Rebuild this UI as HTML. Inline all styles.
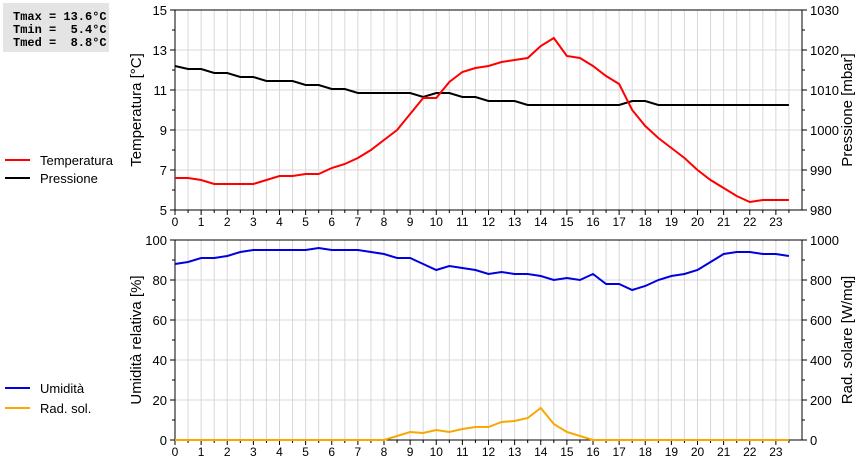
<!DOCTYPE html>
<html><head><meta charset="utf-8"><style>
body{margin:0;background:#fff;width:860px;height:460px;overflow:hidden;font-family:"Liberation Sans",sans-serif}
#info{position:absolute;left:3px;top:3px;width:106px;height:49px;background:#e4e4e4;font-family:"Liberation Mono",monospace;font-weight:bold;font-size:12px;line-height:13px;padding-top:8px;box-sizing:border-box;white-space:pre;padding-left:10px}
</style></head><body>
<div id="info">Tmax = 13.6°C
Tmin =  5.4°C
Tmed =  8.8°C</div>
<svg id="svg" width="860" height="460" style="position:absolute;left:0;top:0;pointer-events:none"></svg>
<script>
const hours=[0,0.5,1,1.5,2,2.5,3,3.5,4,4.5,5,5.5,6,6.5,7,7.5,8,8.5,9,9.5,10,10.5,11,11.5,12,12.5,13,13.5,14,14.5,15,15.5,16,16.5,17,17.5,18,18.5,19,19.5,20,20.5,21,21.5,22,22.5,23,23.5];
const temperature=[6.6,6.6,6.5,6.3,6.3,6.3,6.3,6.5,6.7,6.7,6.8,6.8,7.1,7.3,7.6,8.0,8.5,9.0,9.8,10.6,10.6,11.4,11.9,12.1,12.2,12.4,12.5,12.6,13.2,13.6,12.7,12.6,12.2,11.7,11.3,10.0,9.2,8.6,8.1,7.6,7.0,6.5,6.1,5.7,5.4,5.5,5.5,5.5];
const pressure=[1016,1015.25,1015.25,1014.25,1014.25,1013.25,1013.25,1012.25,1012.25,1012.25,1011.25,1011.25,1010.25,1010.25,1009.25,1009.25,1009.25,1009.25,1009.25,1008.25,1009.25,1009.25,1008.25,1008.25,1007.25,1007.25,1007.25,1006.25,1006.25,1006.25,1006.25,1006.25,1006.25,1006.25,1006.25,1007.25,1007.25,1006.25,1006.25,1006.25,1006.25,1006.25,1006.25,1006.25,1006.25,1006.25,1006.25,1006.25];
const humidity=[88,89,91,91,92,94,95,95,95,95,95,96,95,95,95,94,93,91,91,88,85,87,86,85,83,84,83,83,82,80,81,80,83,78,78,75,77,80,82,83,85,89,93,94,94,93,93,92];
const solar=[0,0,0,0,0,0,0,0,0,0,0,0,0,0,0,0,0,20,40,35,50,40,55,65,65,90,95,110,160,80,40,20,0,0,0,0,0,0,0,0,0,0,0,0,0,0,0,0];
const tempTicks=[5,7,9,11,13,15];
const presTicks=[980,990,1000,1010,1020,1030];
const humTicks=[0,20,40,60,80,100];
const solTicks=[0,200,400,600,800,1000];
const xTicks=[0,1,2,3,4,5,6,7,8,9,10,11,12,13,14,15,16,17,18,19,20,21,22,23];
const svg=document.getElementById('svg');const NS='http://www.w3.org/2000/svg';
function mk(t,a,p){const e=document.createElementNS(NS,t);for(const k in a)e.setAttribute(k,a[k]);(p||svg).appendChild(e);return e;}
const X0=175,X1=802;const x=h=>X0+h/24*(X1-X0);
function panel(top,bot,lMin,lMax,rMin,rMax,lT,rT,lTitle,rTitle,series,name){
 const g=mk('g',{});
 const yl=v=>bot-(v-lMin)/(lMax-lMin)*(bot-top), yr=v=>bot-(v-rMin)/(rMax-rMin)*(bot-top);
 for(let h=0.5;h<24;h+=0.5)mk('line',{x1:x(h),x2:x(h),y1:top,y2:bot,stroke:'#d8d8d8','stroke-width':1},g);
 lT.forEach((v,i)=>{const y=yl(v);if(i>0&&i<lT.length-1)mk('line',{x1:X0,x2:X1,y1:y,y2:y,stroke:'#d8d8d8'},g);
  mk('line',{x1:X0-5,x2:X0,y1:y,y2:y,stroke:'#000'},g);mk('line',{x1:X1,x2:X1+5,y1:y,y2:y,stroke:'#000'},g);
  if(i>0){const ym=yl((v+lT[i-1])/2);mk('line',{x1:X0-3,x2:X0,y1:ym,y2:ym,stroke:'#000'},g);mk('line',{x1:X1,x2:X1+3,y1:ym,y2:ym,stroke:'#000'},g);}
  const t=mk('text',{x:X0-8,y:y+5,'text-anchor':'end','font-size':13},g);t.textContent=v;});
 rT.forEach(v=>{const t=mk('text',{x:X1+8,y:yr(v)+5,'font-size':13},g);t.textContent=v;});
 mk('rect',{x:X0,y:top,width:X1-X0,height:bot-top,fill:'none',stroke:'#000'},g);
 for(let h=0;h<24;h+=0.5){mk('line',{x1:x(h),x2:x(h),y1:bot,y2:bot+(h%1?3:5),stroke:'#000'},g);}
 xTicks.forEach(h=>{const t=mk('text',{x:x(h),y:bot+16,'text-anchor':'middle','font-size':12},g);t.textContent=h;});
 const cy=(top+bot)/2;
 let t=mk('text',{x:0,y:0,'text-anchor':'middle','font-size':15,transform:`translate(141,${cy}) rotate(-90)`},g);t.textContent=lTitle;
 t=mk('text',{x:0,y:0,'text-anchor':'middle','font-size':15,transform:`translate(852,${cy}) rotate(-90)`},g);t.textContent=rTitle;
 series.forEach(s=>{const f=s.right?yr:yl;const p=mk('polyline',{points:hours.map((h,i)=>x(h)+','+f(s.data[i])).join(' '),fill:'none',stroke:s.color,'stroke-width':2},g);});
}
panel(10,210,5,15,980,1030,tempTicks,presTicks,'Temperatura [°C]','Pressione [mbar]',[{data:pressure,right:true,color:'#000',name:'pressure-line'},{data:temperature,color:'#f00',name:'temperature-line'}],'top-panel');
panel(240,440,0,100,0,1000,humTicks,solTicks,'Umidità relativa [%]','Rad. solare [W/mq]',[{data:solar,right:true,color:'#f8a800',name:'solar-line'},{data:humidity,color:'#0000e0',name:'humidity-line'}],'bottom-panel');
function legend(y,color,label,name){const g=mk('g',{});
 mk('line',{x1:5,x2:30,y1:y,y2:y,stroke:color,'stroke-width':2},g);const t=mk('text',{x:40,y:y+5,'font-size':13},g);t.textContent=label;}
legend(160,'#f00','Temperatura','legend-temperature');
legend(178,'#000','Pressione','legend-pressure');
legend(388,'#0000e0','Umidità','legend-humidity');
legend(408,'#f8a800','Rad. sol.','legend-solar');
</script>
</body></html>
